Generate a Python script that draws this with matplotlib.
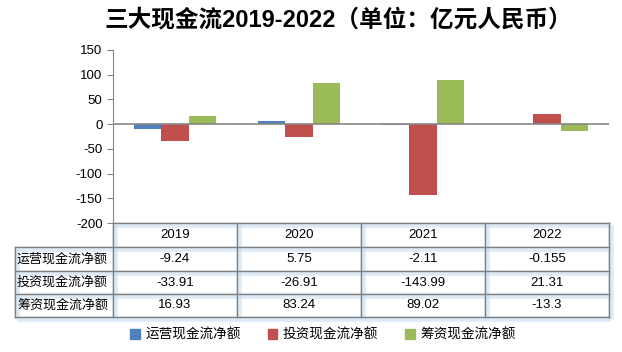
import matplotlib
matplotlib.use("Agg")
import matplotlib.pyplot as plt
import numpy as np
from matplotlib.patches import Patch

plt.rcParams['font.family'] = ['Liberation Sans', 'Noto Sans CJK SC', 'DejaVu Sans']
plt.rcParams['axes.unicode_minus'] = False

# data
years = ['2019', '2020', '2021', '2022']
series_names = ['运营现金流净额', '投资现金流净额', '筹资现金流净额']
operating = [-9.24, 5.75, -2.11, -0.155]
investing = [-33.91, -26.91, -143.99, 21.31]
financing = [16.93, 83.24, 89.02, -13.3]
table_text = [['-9.24', '5.75', '-2.11', '-0.155'],
              ['-33.91', '-26.91', '-143.99', '21.31'],
              ['16.93', '83.24', '89.02', '-13.3']]
colors = ['#4F81BD', '#C0504D', '#9BBB59']
title = '三大现金流2019-2022（单位：亿元人民币）'

W, H = 622, 352
fig = plt.figure(figsize=(W / 100, H / 100), dpi=100)

# chart area in pixels
x0, x1 = 113, 609
y_top, y_bot = 50, 223
ax = fig.add_axes([x0 / W, 1 - y_bot / H, (x1 - x0) / W, (y_bot - y_top) / H])

x = np.arange(len(years))
bw = 1 / 4.5
for i, vals in enumerate([operating, investing, financing]):
    ax.bar(x + (i - 1) * bw, vals, width=bw, color=colors[i], zorder=2)
ax.axhline(0, color='#868686', lw=1.2, zorder=3)
ax.set_xlim(-0.5, len(years) - 0.5)
ax.set_ylim(-200, 150)
ax.set_yticks(np.arange(-200, 151, 50))
ax.set_xticks([])
for s in ['top', 'right', 'bottom']:
    ax.spines[s].set_visible(False)
ax.spines['left'].set_color('#868686')
ax.tick_params(axis='y', colors='#868686', labelcolor='black', labelsize=9.5, length=4, direction='out')

# overlay for the table, in pixel coords
ov = fig.add_axes([0, 0, 1, 1], facecolor='none')
ov.set_xlim(0, W)
ov.set_ylim(H, 0)
ov.axis('off')

col_edges = [113, 237, 361, 485, 609]
row_edges = [223, 247, 271, 294, 317]
lab_x0 = 15

def tline(xs, ys):
    ov.plot([v + 1.5 for v in xs], [v + 1.5 for v in ys], color='#C9DDF0', lw=4, alpha=0.6,
            solid_capstyle='butt', zorder=1)
    ov.plot(xs, ys, color='#808080', lw=1, zorder=2)

# horizontal lines
tline([col_edges[0], col_edges[-1]], [row_edges[0], row_edges[0]])
for r in row_edges[1:]:
    tline([lab_x0, col_edges[-1]], [r, r])
# vertical lines
tline([lab_x0, lab_x0], [row_edges[1], row_edges[-1]])
for c in col_edges:
    tline([c, c], [row_edges[0], row_edges[-1]])

for j, yr in enumerate(years):
    cx = (col_edges[j] + col_edges[j + 1]) / 2
    ov.text(cx, (row_edges[0] + row_edges[1]) / 2, yr, ha='center', va='center', fontsize=9.5, zorder=3)
    for i in range(3):
        cy = (row_edges[i + 1] + row_edges[i + 2]) / 2
        ov.text(cx, cy, table_text[i][j], ha='center', va='center', fontsize=9.5, zorder=3)
for i, name in enumerate(series_names):
    cy = (row_edges[i + 1] + row_edges[i + 2]) / 2
    ov.text(lab_x0 + 2, cy, name, ha='left', va='center', fontsize=9.4, zorder=3)

fig.text(338 / W, 1 - 20 / H, title, ha='center', va='center', fontsize=17, fontweight='bold')

handles = [Patch(color=c) for c in colors]
fig.legend(handles, series_names, loc='center', bbox_to_anchor=(323 / W, 1 - 335 / H), ncol=3,
           frameon=False, fontsize=9.8, handlelength=0.7, handleheight=0.7, handletextpad=0.4,
           columnspacing=2.0)

fig.savefig('out.png', dpi=100)
